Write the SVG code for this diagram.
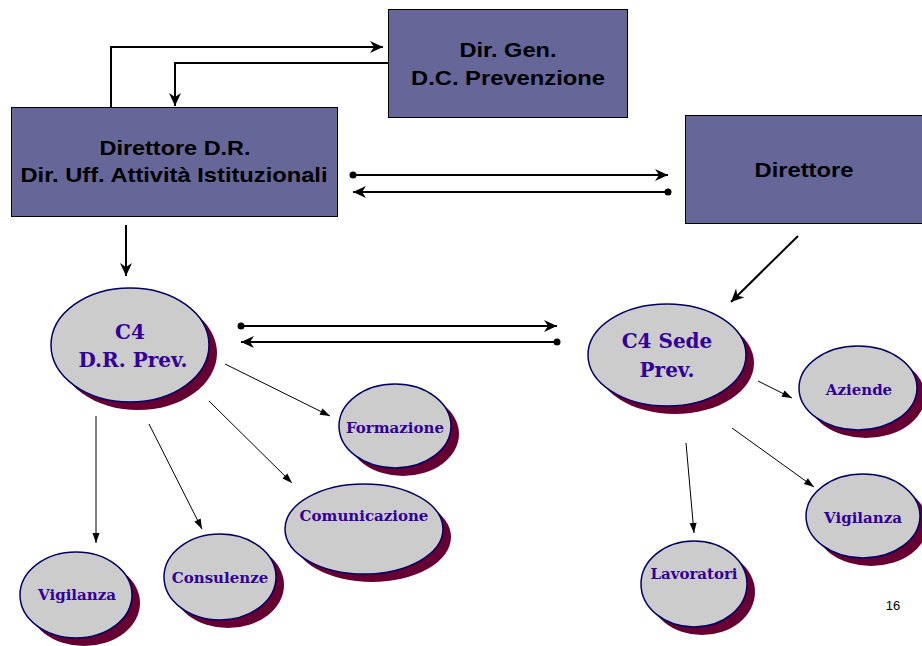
<svg xmlns="http://www.w3.org/2000/svg" width="922" height="646" viewBox="0 0 922 646">
<style>
.box{fill:#666699;stroke:#000;stroke-width:1}
.bt{font-family:"Liberation Sans",Arial,sans-serif;font-weight:bold;font-size:21px;fill:#000;text-anchor:middle}
.sh{fill:#660033}
.el{fill:#cccccc;stroke:#000066;stroke-width:1.5}
.et{font-family:"DejaVu Serif","Liberation Serif",serif;font-weight:bold;fill:#330099;text-anchor:middle}
.big{font-size:20px}
.sm{font-size:15px}
.thick{fill:none;stroke:#000;stroke-width:2}
.thin{fill:none;stroke:#000;stroke-width:1}
</style>
<defs>
<marker id="ah" markerUnits="userSpaceOnUse" markerWidth="14" markerHeight="14" refX="13" refY="6" orient="auto" overflow="visible">
<path d="M0,0 L13,6 L0,12 L4,6 Z" fill="#000"/>
</marker>
<marker id="at" markerUnits="userSpaceOnUse" markerWidth="10" markerHeight="8" refX="10" refY="3.5" orient="auto" overflow="visible">
<path d="M0,0 L10,3.5 L0,7 Z" fill="#000"/>
</marker>
<marker id="dot" markerUnits="userSpaceOnUse" markerWidth="8" markerHeight="8" refX="4" refY="4" orient="auto" overflow="visible">
<circle cx="4" cy="4" r="3.5" fill="#000"/>
</marker>
</defs>
<rect width="922" height="646" fill="#fff"/>

<g id="dirgen">
<rect class="box" x="388.5" y="9.5" width="239" height="108"/>
<text class="bt" x="508" y="57" textLength="97" lengthAdjust="spacingAndGlyphs">Dir. Gen.</text>
<text class="bt" x="508" y="85" textLength="194" lengthAdjust="spacingAndGlyphs">D.C. Prevenzione</text>
</g>
<g id="direttoreDR">
<rect class="box" x="11.5" y="107.5" width="326" height="109"/>
<text class="bt" x="175" y="155" textLength="151" lengthAdjust="spacingAndGlyphs">Direttore D.R.</text>
<text class="bt" x="174" y="182" textLength="307" lengthAdjust="spacingAndGlyphs">Dir. Uff. Attività Istituzionali</text>
</g>
<g id="direttore">
<rect class="box" x="685.5" y="115.5" width="240" height="108"/>
<text class="bt" x="804" y="177" textLength="99" lengthAdjust="spacingAndGlyphs">Direttore</text>
</g>

<g id="c4dr">
<ellipse class="sh" cx="138" cy="353" rx="79" ry="57"/>
<ellipse class="el" cx="130" cy="345" rx="79" ry="57"/>
<text class="et big" x="130" y="339">C4</text>
<text class="et big" x="133" y="367">D.R. Prev.</text>
</g>
<g id="formazione">
<ellipse class="sh" cx="403" cy="434" rx="56" ry="42"/>
<ellipse class="el" cx="395" cy="426" rx="56" ry="42"/>
<text class="et sm" x="395" y="433">Formazione</text>
</g>
<g id="comunicazione">
<ellipse class="sh" cx="372" cy="537" rx="79" ry="45"/>
<ellipse class="el" cx="364" cy="529" rx="79" ry="45"/>
<text class="et sm" x="364" y="521">Comunicazione</text>
</g>
<g id="consulenze">
<ellipse class="sh" cx="228" cy="585" rx="56" ry="43"/>
<ellipse class="el" cx="220" cy="577" rx="56" ry="43"/>
<text class="et sm" x="220" y="583">Consulenze</text>
</g>
<g id="vigilanza1">
<ellipse class="sh" cx="84" cy="603" rx="56" ry="43"/>
<ellipse class="el" cx="76" cy="595" rx="56" ry="43"/>
<text class="et sm" x="77" y="600">Vigilanza</text>
</g>

<g id="c4sede">
<ellipse class="sh" cx="675" cy="363" rx="79" ry="51"/>
<ellipse class="el" cx="667" cy="355" rx="79" ry="51"/>
<text class="et big" x="667" y="348">C4 Sede</text>
<text class="et big" x="667" y="377">Prev.</text>
</g>
<g id="aziende">
<ellipse class="sh" cx="866" cy="396" rx="59" ry="42"/>
<ellipse class="el" cx="858" cy="388" rx="59" ry="42"/>
<text class="et sm" x="859" y="395">Aziende</text>
</g>
<g id="vigilanza2">
<ellipse class="sh" cx="871" cy="524" rx="57" ry="42"/>
<ellipse class="el" cx="863" cy="516" rx="57" ry="42"/>
<text class="et sm" x="863" y="523">Vigilanza</text>
</g>
<g id="lavoratori">
<ellipse class="sh" cx="702" cy="592" rx="53" ry="43"/>
<ellipse class="el" cx="694" cy="584" rx="53" ry="43"/>
<text class="et sm" x="694" y="579">Lavoratori</text>
</g>

<g id="connectors">
<path class="thick" d="M111,107 V47 H383" marker-end="url(#ah)"/>
<path class="thick" d="M388,63 H175 V106" marker-end="url(#ah)"/>
<path class="thick" d="M353,175 H668" marker-start="url(#dot)" marker-end="url(#ah)"/>
<path class="thick" d="M668,192 H353" marker-start="url(#dot)" marker-end="url(#ah)"/>
<path class="thick" d="M126,225 V276" marker-end="url(#ah)"/>
<path class="thick" d="M798,236 L731,302" marker-end="url(#ah)"/>
<path class="thick" d="M241,326 H557" marker-start="url(#dot)" marker-end="url(#ah)"/>
<path class="thick" d="M557,342 H241" marker-start="url(#dot)" marker-end="url(#ah)"/>
<path class="thin" d="M225,364 L330,416" marker-end="url(#at)"/>
<path class="thin" d="M209,401 L292,483" marker-end="url(#at)"/>
<path class="thin" d="M149,424 L202,529" marker-end="url(#at)"/>
<path class="thin" d="M96,416 V543" marker-end="url(#at)"/>
<path class="thin" d="M758,381 L792,398" marker-end="url(#at)"/>
<path class="thin" d="M732,428 L814,487" marker-end="url(#at)"/>
<path class="thin" d="M686,443 L694,533" marker-end="url(#at)"/>
</g>
<text x="893" y="610" font-family="Liberation Sans,Arial,sans-serif" font-size="13" text-anchor="middle">16</text>
</svg>
